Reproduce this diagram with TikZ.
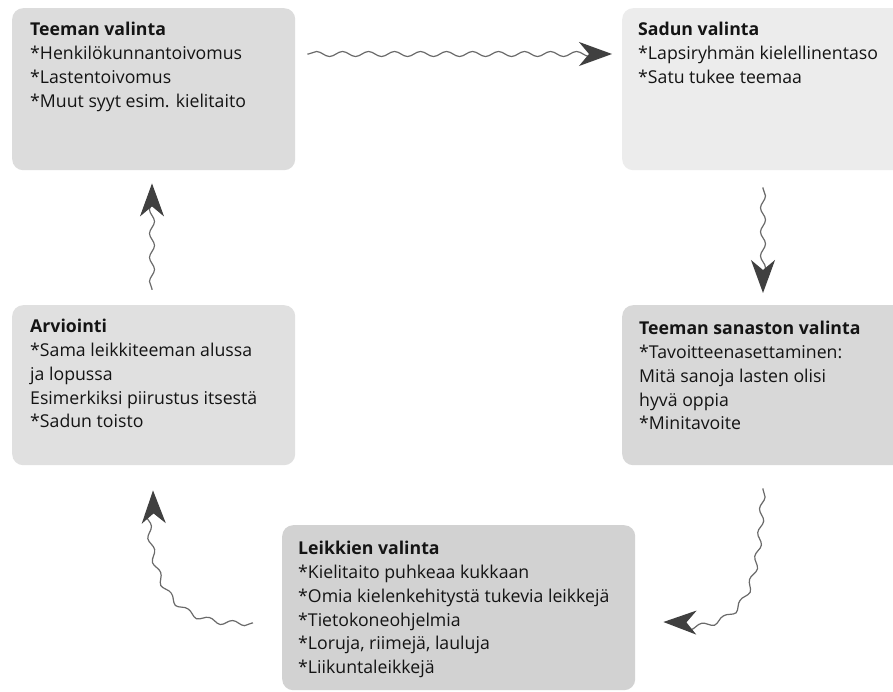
\documentclass[tikz,border=0pt]{standalone}
\usepackage{fontspec}
\setmainfont{Open Sans}
\usetikzlibrary{decorations.pathmorphing,arrows.meta,calc}
\definecolor{boxA}{HTML}{DCDCDC}
\definecolor{boxB}{HTML}{ECECEC}
\definecolor{boxC}{HTML}{E0E0E0}
\definecolor{boxD}{HTML}{D8D8D8}
\definecolor{boxE}{HTML}{D2D2D2}
\definecolor{linegray}{HTML}{6A6A6A}
\definecolor{headgray}{HTML}{404040}
\begin{document}
\begin{tikzpicture}[x=1pt,y=-1pt,
  panel/.style={rounded corners=11pt, inner sep=0pt, anchor=north west, draw=none},
  txt/.style={anchor=north west, inner sep=0pt, align=left, text=black!92,
    font=\fontsize{17.7}{23.8}\selectfont},
  wave/.style={draw=linegray, line width=1.2pt, decorate,
    decoration={snake, amplitude=2.5pt, segment length=26pt, pre length=1pt, post length=6pt},
    -{Stealth[length=33pt,width=24pt,inset=10pt,color=headgray]}}]
\clip (0,0) rectangle (893,692);
\fill[white] (0,0) rectangle (893,692);

% boxes
\node[panel, fill=boxA, minimum width=283pt, minimum height=162pt] (b1) at (12,8) {};
\node[panel, fill=boxB, minimum width=290pt, minimum height=162pt] (b2) at (622,8) {};
\node[panel, fill=boxC, minimum width=283pt, minimum height=160pt] (b3) at (12,305) {};
\node[panel, fill=boxD, minimum width=290pt, minimum height=160pt] (b4) at (622,305) {};
\node[panel, fill=boxE, minimum width=353pt, minimum height=165pt] (b5) at (282,525) {};

% texts
\node[txt] (t1) at (30,22) {\textbf{Teeman valinta}\\*Henkilökunnantoivomus\\*Lastentoivomus\\*Muut syyt esim. kielitaito};
\node[txt] (t2) at (638,22) {\textbf{Sadun valinta}\\*Lapsiryhmän kielellinentaso\\*Satu tukee teemaa};
\node[txt] (t3) at (30,319) {\textbf{Arviointi}\\*Sama leikkiteeman alussa\\ja lopussa\\Esimerkiksi piirustus itsestä\\*Sadun toisto};
\node[txt] (t4) at (639,321) {\textbf{Teeman sanaston valinta}\\*Tavoitteenasettaminen:\\Mitä sanoja lasten olisi\\hyvä oppia\\*Minitavoite};
\node[txt] (t5) at (298,541) {\textbf{Leikkien valinta}\\*Kielitaito puhkeaa kukkaan\\*Omia kielenkehitystä tukevia leikkejä\\*Tietokoneohjelmia\\*Loruja, riimejä, lauluja\\*Liikuntaleikkejä};

% arrow end points
\coordinate (s12) at ($(b1.north east)+(12,46)$);
\coordinate (e12) at ($(b2.north west)+(-10,46)$);
\coordinate (s24) at ($(b2.south west)+(141,17)$);
\coordinate (e24) at ($(b4.north west)+(141,-12)$);
\coordinate (s45) at ($(b4.south west)+(141,23)$);
\coordinate (e45) at ($(b5.north east)+(28,97)$);
\coordinate (s53) at ($(b5.north west)+(-29,98)$);
\coordinate (e53) at ($(b3.south west)+(141,25)$);
\coordinate (s31) at ($(b3.north west)+(140,-15)$);
\coordinate (e31) at ($(b1.south west)+(140,13)$);

% connectors
\draw[wave] (s12) -- (e12);
\draw[wave, decoration={segment length=24pt}] (s24) -- (e24);
\draw[wave, decoration={segment length=24pt}] (s45) .. controls ($(s45)+(-5,110)$) and ($(e45)+(80,2)$) .. (e45);
\draw[wave, decoration={segment length=24pt}] (s53) .. controls ($(s53)+(-75,2)$) and ($(e53)+(2,100)$) .. (e53);
\draw[wave, decoration={segment length=24pt}] (s31) -- (e31);
\end{tikzpicture}
\end{document}
